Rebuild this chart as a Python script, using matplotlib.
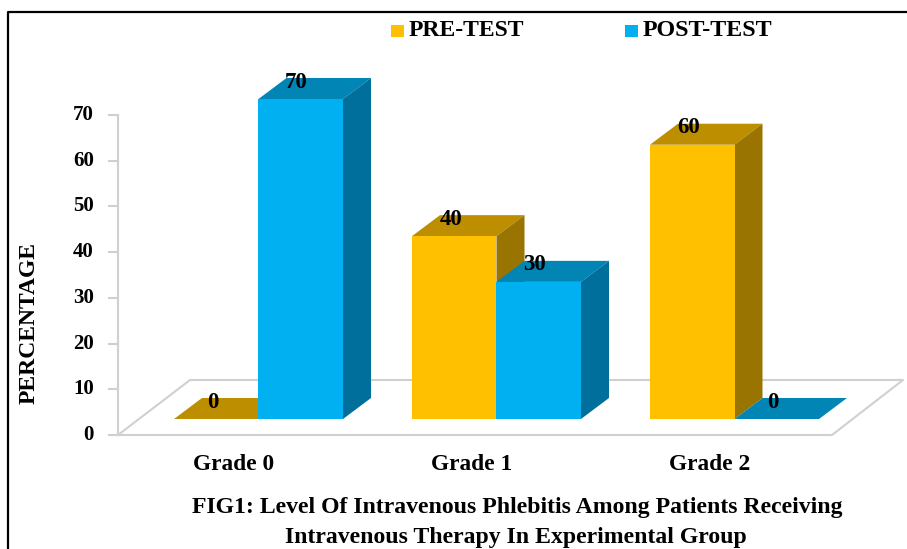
import matplotlib
matplotlib.use('Agg')
import matplotlib.pyplot as plt

plt.rcParams['font.family'] = ['Liberation Serif', 'DejaVu Serif']
plt.rcParams['font.weight'] = 'bold'

categories = ['Grade 0', 'Grade 1', 'Grade 2']
pre_test = [0, 40, 60]
post_test = [70, 30, 0]
yticks = [0, 10, 20, 30, 40, 50, 60, 70]

W, H = 907, 549
PX = 238.0          # px for one category
PY = 320/70.0       # px for one percent
x0_px, y0_px = 258.5, 419
bw = 84.5/PX
dx, dy = 28/PX, 21/PY
ax_dy = -16/PY      # floor front edge vs bar base

C_PRE = ('#FFC000', '#BD8E00', '#9A7400')
C_POST = ('#00B0F0', '#0085B4', '#006F9B')
C_GRID = '#D0D0D0'

fig = plt.figure(figsize=(W/100, H/100), dpi=100)
ax = fig.add_axes([0, 0, 1, 1])
ax.set_xlim(-x0_px/PX, (W-x0_px)/PX)
ax.set_ylim(-(H-y0_px)/PY, y0_px/PY)
ax.axis('off')

def xp(px):
    return (px-x0_px)/PX

def yp(px):
    return (y0_px-px)/PY

# frame of the picture, open on the right and at the bottom
ax.plot([xp(8), xp(8), xp(907)], [yp(549), yp(12), yp(12)], color='black', lw=1.6, zorder=1)

# floor and value axis
fx0, fx1 = xp(118), xp(832)
fy = ax_dy
ax.plot([fx0, fx1, fx1+71/PX, fx0+72/PX, fx0], [fy, fy, fy+55/PY, fy+55/PY, fy], color=C_GRID, lw=1.5, zorder=2)
ax.plot([fx0, fx0], [fy, fy+70], color=C_GRID, lw=1.5, zorder=2)
for t in yticks:
    ax.plot([fx0-9/PX, fx0], [fy+t, fy+t], color=C_GRID, lw=1.5, zorder=2)
    ax.text(xp(94), fy+t, str(t), ha='right', va='center', fontsize=15, color='black')

def bar3d(x, v, cols, z):
    ax.bar(x, v, width=bw, align='edge', color=cols[0], zorder=z+1, linewidth=0)
    ax.fill([x, x+bw, x+bw+dx, x+dx], [v, v, v+dy, v+dy], color=cols[1], zorder=z, linewidth=0)
    if v > 0:
        ax.fill([x+bw, x+bw+dx, x+bw+dx, x+bw], [0, dy, v+dy, v], color=cols[2], zorder=z, linewidth=0)

z = 3
for i in range(len(categories)):
    bar3d(i-bw, pre_test[i], C_PRE, z)
    z += 2
    bar3d(i, post_test[i], C_POST, z)
    z += 2

for i in range(len(categories)):
    ax.text(i-bw+39/PX, pre_test[i]+dy-4/PY, str(pre_test[i]), ha='center', va='center', fontsize=16.5, zorder=30)
    ax.text(i+38/PX, post_test[i]+dy-4/PY, str(post_test[i]), ha='center', va='center', fontsize=16.5, zorder=30)
    ax.text(i-25/PX, yp(465), categories[i], ha='center', va='center', fontsize=16.8)

ax.text(xp(29), yp(323), 'PERCENTAGE', rotation=90, ha='center', va='center', fontsize=17)

# legend
for px, name, col, size in [(391, 'PRE-TEST', C_PRE[0], 17), (625, 'POST-TEST', C_POST[0], 17.3)]:
    ax.fill([xp(px), xp(px+13), xp(px+13), xp(px)], [yp(37), yp(37), yp(25), yp(25)], color=col, linewidth=0)
    ax.text(xp(px+18), yp(30), name, ha='left', va='center', fontsize=size)

ax.text(xp(517), yp(508), 'FIG1: Level Of Intravenous Phlebitis Among Patients Receiving', ha='center', va='center', fontsize=17.1)
ax.text(xp(516), yp(537), 'Intravenous Therapy In Experimental Group', ha='center', va='center', fontsize=17.1)

fig.savefig('out.png', dpi=100)
